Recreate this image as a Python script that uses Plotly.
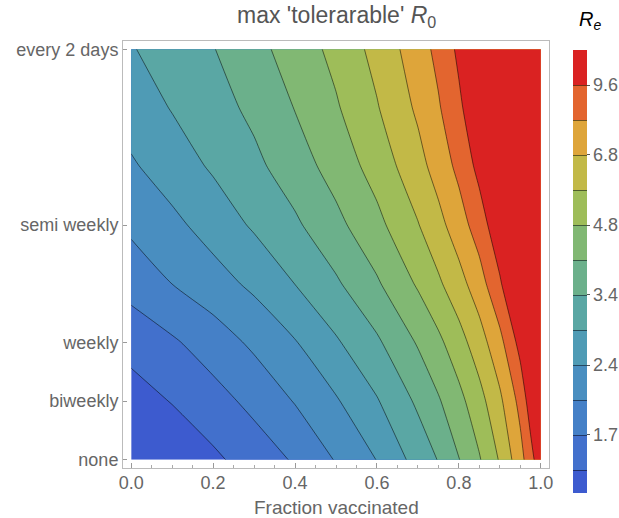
import numpy as np
import plotly.graph_objects as go

# ---------------- data ----------------
fraction_vaccinated = [0, 0.1, 0.2, 0.3, 0.4, 0.5, 0.6, 0.7, 0.75, 0.8, 0.85, 0.9, 0.95, 0.975, 1.0]
testing_rate = [0, 0.0718, 0.1437, 0.2143, 0.286, 0.358, 0.4285, 0.5]

# max tolerable R0 (R_e) on the grid, one list per testing-rate row (bottom -> top)
re_none = [1.14, 1.25, 1.38, 1.54, 1.73, 2.04, 2.41, 3.05, 3.42, 4.01, 4.73, 5.80, 7.58, 9.00, 10.84]
re_biweekly = [1.32, 1.44, 1.59, 1.78, 2.04, 2.36, 2.82, 3.50, 3.97, 4.56, 5.37, 6.56, 8.53, 10.47, 12.45]
re_weekly = [1.52, 1.66, 1.85, 2.09, 2.38, 2.80, 3.31, 4.11, 4.63, 5.34, 6.30, 7.68, 10.22, 12.03, 13.58]
re_row4 = [1.81, 2.02, 2.23, 2.49, 2.86, 3.31, 3.95, 4.90, 5.55, 6.37, 7.47, 9.40, 12.03, 13.58, 15.06]
re_semiweekly = [2.09, 2.30, 2.58, 2.92, 3.30, 3.85, 4.58, 5.66, 6.44, 7.44, 8.83, 10.84, 13.11, 14.55, 16.15]
re_row6 = [2.35, 2.62, 2.92, 3.26, 3.72, 4.33, 5.15, 6.40, 7.29, 8.45, 10.11, 12.03, 14.06, 15.59, 17.30]
re_row7 = [2.60, 2.88, 3.17, 3.53, 4.06, 4.71, 5.64, 6.99, 7.93, 9.29, 11.03, 12.89, 14.80, 16.43, 18.23]
re_every2days = [2.82, 3.09, 3.37, 3.82, 4.36, 5.04, 6.03, 7.45, 8.47, 9.94, 11.82, 13.58, 15.59, 17.01, 18.87]

y_tick_vals = [0, 1 / 14, 1 / 7, 2 / 7, 0.5]
y_tick_text = ["none", "biweekly", "weekly", "semi weekly", "every 2 days"]

cb_tick_vals = [1.7, 2.4, 3.4, 4.8, 6.8, 9.6]
cb_tick_text = ["1.7", "2.4", "3.4", "4.8", "6.8", "9.6"]

# contour levels: 1.2 * 2^(k/4), k = 1..12 (9.6 top level)
level_first = 1.2 * 2 ** 0.25
level_last = 9.6
level_ratio = 2 ** 0.25
cb_min, cb_max = 1.275, 9.6 * 2 ** 0.25

band_colors = [
    "#3D5BCF", "#4270CC", "#4580C7", "#498EC0", "#4F9BB5", "#5AA7A4",
    "#6BB08B", "#81B873", "#9EBD59", "#C2B947", "#DEA53A", "#E3652F", "#DA2222",
]

# ---------------- figure ----------------
z = np.log(np.array([re_none, re_biweekly, re_weekly, re_row4, re_semiweekly,
                     re_row6, re_row7, re_every2days]))

n = len(band_colors)
colorscale = [[i / (n - 1), c] for i, c in enumerate(band_colors)]

W, H = 619, 518
ml, mr, mt, mb = 123, 70, 41, 50
pw, ph = W - ml - mr, H - mt - mb


def px_x(px):
    return (px - ml) / pw


def px_y(py):
    return (H - mb - py) / ph


FONT = "Liberation Sans, Arial, sans-serif"
tick_font = dict(family=FONT, size=18, color="#666")

fig = go.Figure()
fig.add_trace(go.Contour(
    x=fraction_vaccinated,
    y=testing_rate,
    z=z,
    zmin=np.log(cb_min),
    zmax=np.log(cb_max),
    colorscale=colorscale,
    contours=dict(start=np.log(level_first), end=np.log(level_last),
                  size=np.log(level_ratio), coloring="fill", showlines=True),
    line=dict(color="rgba(0,0,0,0.5)", width=1, smoothing=0.6),
    hoverinfo="skip",
    colorbar=dict(
        thickness=14, thicknessmode="pixels",
        len=443, lenmode="pixels",
        x=px_x(573), xanchor="left", y=px_y(50), yanchor="top",
        xpad=0, ypad=0, outlinewidth=0,
        ticks="outside", ticklen=3, tickcolor="#555", tickwidth=1,
        tickvals=list(np.log(cb_tick_vals)), ticktext=cb_tick_text,
        tickfont=tick_font,
    ),
))

fig.update_layout(
    width=W, height=H,
    margin=dict(l=ml, r=mr, t=mt, b=mb, autoexpand=False),
    paper_bgcolor="white", plot_bgcolor="white",
    showlegend=False,
    font=dict(family=FONT),
    xaxis=dict(range=[-0.02, 1.02], dtick=0.2, tick0=0, tickformat=".1f",
               ticks="inside", ticklen=5, tickcolor="#999", tickwidth=1,
               minor=dict(dtick=0.05, ticks="inside", ticklen=3, tickcolor="#aaa"),
               showline=True, linecolor="#bbb", linewidth=1, mirror=True,
               showgrid=False, zeroline=False, tickfont=tick_font, automargin=False,
               ticklabelstandoff=-2),
    yaxis=dict(range=[-0.01, 0.51], tickvals=y_tick_vals, ticktext=y_tick_text,
               ticks="inside", ticklen=4, tickcolor="#999", tickwidth=1,
               showline=True, linecolor="#bbb", linewidth=1, mirror=True,
               showgrid=False, zeroline=False, tickfont=tick_font, automargin=False),
    annotations=[
        dict(text="max 'tolerarable' <i>R</i><sub>0</sub>", xref="paper", yref="paper",
             x=0.5, y=px_y(17), xanchor="center", yanchor="middle", showarrow=False,
             font=dict(family=FONT, size=23, color="#555")),
        dict(text="Fraction vaccinated", xref="paper", yref="paper",
             x=0.5, y=px_y(507), xanchor="center", yanchor="middle", showarrow=False,
             font=dict(family=FONT, size=19, color="#666")),
        dict(text="<i>R<sub>e</sub></i>", xref="paper", yref="paper",
             x=px_x(590), y=px_y(21), xanchor="center", yanchor="middle", showarrow=False,
             font=dict(family=FONT, size=20, color="black")),
    ],
)

fig.write_html(
    "out.html",
    config={"displayModeBar": False},
    post_script="document.body.style.margin='0';document.body.style.padding='0';"
                "document.body.style.overflow='hidden';",
)
